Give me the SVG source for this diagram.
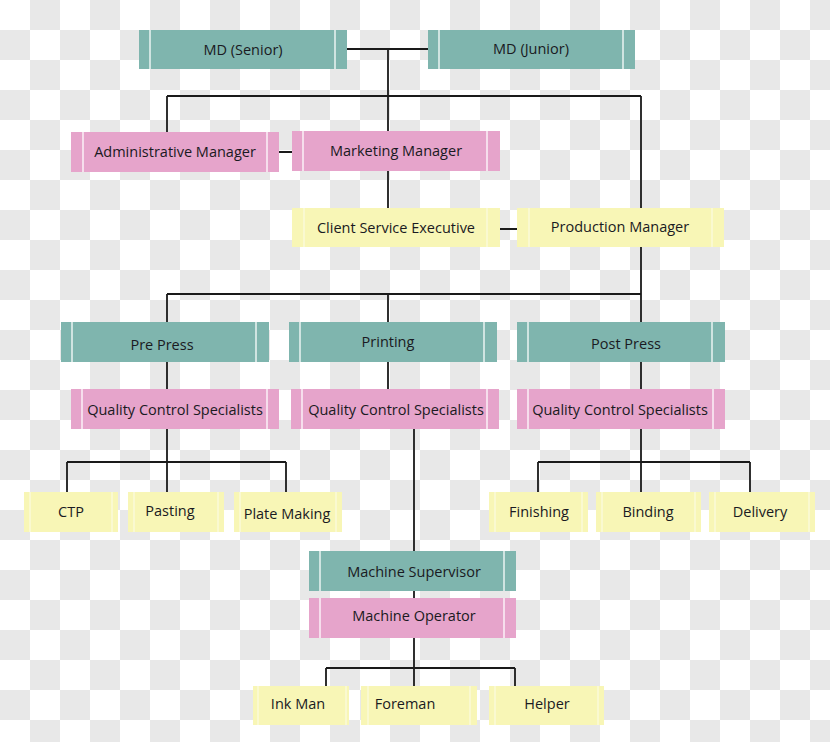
<svg xmlns="http://www.w3.org/2000/svg" width="830" height="742" viewBox="0 0 830 742">
<defs>
<pattern id="chk" x="0" y="0" width="60" height="60" patternUnits="userSpaceOnUse">
<rect width="60" height="60" fill="#ffffff"/>
<rect x="30" y="0" width="30" height="30" fill="#e8e8e8"/>
<rect x="0" y="30" width="30" height="30" fill="#e8e8e8"/>
</pattern>
<style>
.teal{fill:#7fb5ae}
.pink{fill:#e6a4cb}
.yel{fill:#f8f6b6}
.sep{stroke:#ffffff;stroke-width:1.5;opacity:0.85}
.sepy{stroke:#ffffff;stroke-width:1.2;opacity:0.6}
.lbl{font-family:"Open Sans","Liberation Sans",sans-serif;font-size:14.5px;fill:#1a1a22;text-anchor:middle}
.con{fill:none;stroke:#1a1a1a;stroke-width:1.8}
</style>
</defs>
<rect width="830" height="742" fill="url(#chk)"/>

<g id="connectors">
<path class="con" d="M347 49H428M388 49V96M167 96H641M167 96V132M388 96V131M641 96V208"/>
<path class="con" d="M279 152H292M388 171V208M500 229H517"/>
<path class="con" d="M641 247V294M167 294H641M167 294V322M388 294V322M641 294V322"/>
<path class="con" d="M167 362V389M388 362V389M641 362V389"/>
<path class="con" d="M167 429V492M67 462H286M67 462V492M286 462V492"/>
<path class="con" d="M641 429V492M538 462H750M538 462V492M750 462V492"/>
<path class="con" d="M414 429V551M414 591V598M414 638V686M326 668H515M326 668V686M515 668V686"/>
</g>

<g id="md-senior"><rect class="teal" x="139" y="30" width="208" height="39"/><path class="sep" d="M150 30V69M335 30V69"/><text class="lbl" x="243" y="55">MD (Senior)</text></g>
<g id="md-junior"><rect class="teal" x="428" y="30" width="207" height="39"/><path class="sep" d="M439 30V69M623 30V69"/><text class="lbl" x="531" y="54">MD (Junior)</text></g>
<g id="admin-manager"><rect class="pink" x="71" y="132" width="208" height="40"/><path class="sep" d="M83 132V172M267 132V172"/><text class="lbl" x="175" y="157">Administrative Manager</text></g>
<g id="marketing-manager"><rect class="pink" x="292" y="131" width="208" height="40"/><path class="sep" d="M303 131V171M487 131V171"/><text class="lbl" x="396" y="156">Marketing Manager</text></g>
<g id="client-service"><rect class="yel" x="292" y="208" width="208" height="39"/><path class="sepy" d="M304 208V247M487 208V247"/><text class="lbl" x="396" y="233">Client Service Executive</text></g>
<g id="production-manager"><rect class="yel" x="517" y="208" width="207" height="39"/><path class="sepy" d="M529 208V247M712 208V247"/><text class="lbl" x="620" y="232">Production Manager</text></g>

<g id="pre-press"><rect class="teal" x="61" y="322" width="208" height="40"/><path class="sep" d="M72 322V362M256 322V362"/><text class="lbl" x="162" y="350">Pre Press</text></g>
<g id="printing"><rect class="teal" x="289" y="322" width="208" height="40"/><path class="sep" d="M300 322V362M484 322V362"/><text class="lbl" x="388" y="347">Printing</text></g>
<g id="post-press"><rect class="teal" x="517" y="322" width="208" height="40"/><path class="sep" d="M528 322V362M712 322V362"/><text class="lbl" x="626" y="349">Post Press</text></g>

<g id="qcs-pre"><rect class="pink" x="71" y="389" width="208" height="40"/><path class="sep" d="M82 389V429M267 389V429"/><text class="lbl" x="175" y="415">Quality Control Specialists</text></g>
<g id="qcs-print"><rect class="pink" x="291" y="389" width="208" height="40"/><path class="sep" d="M302 389V429M487 389V429"/><text class="lbl" x="396" y="415">Quality Control Specialists</text></g>
<g id="qcs-post"><rect class="pink" x="517" y="389" width="208" height="40"/><path class="sep" d="M528 389V429M713 389V429"/><text class="lbl" x="620" y="415">Quality Control Specialists</text></g>

<g id="ctp"><rect class="yel" x="24" y="492" width="94" height="40"/><path class="sepy" d="M30 492V532M112 492V532"/><text class="lbl" x="71" y="517">CTP</text></g>
<g id="pasting"><rect class="yel" x="128" y="492" width="96" height="40"/><path class="sepy" d="M134 492V532M218 492V532"/><text class="lbl" x="170" y="516">Pasting</text></g>
<g id="plate-making"><rect class="yel" x="234" y="492" width="108" height="40"/><path class="sepy" d="M240 492V532M336 492V532"/><text class="lbl" x="287" y="519">Plate Making</text></g>
<g id="finishing"><rect class="yel" x="489" y="492" width="99" height="40"/><path class="sepy" d="M495 492V532M582 492V532"/><text class="lbl" x="539" y="517">Finishing</text></g>
<g id="binding"><rect class="yel" x="596" y="492" width="105" height="40"/><path class="sepy" d="M602 492V532M695 492V532"/><text class="lbl" x="648" y="517">Binding</text></g>
<g id="delivery"><rect class="yel" x="709" y="492" width="106" height="40"/><path class="sepy" d="M715 492V532M809 492V532"/><text class="lbl" x="760" y="517">Delivery</text></g>

<g id="machine-supervisor"><rect class="teal" x="309" y="551" width="207" height="40"/><path class="sep" d="M320 551V591M504 551V591"/><text class="lbl" x="414" y="577">Machine Supervisor</text></g>
<g id="machine-operator"><rect class="pink" x="309" y="598" width="207" height="40"/><path class="sep" d="M320 598V638M504 598V638"/><text class="lbl" x="414" y="621">Machine Operator</text></g>

<g id="ink-man"><rect class="yel" x="253" y="686" width="96" height="39"/><path class="sepy" d="M258 686V725M346 686V725"/><text class="lbl" x="298" y="709">Ink Man</text></g>
<g id="foreman"><rect class="yel" x="361" y="686" width="116" height="39"/><path class="sepy" d="M368 686V725M470 686V725"/><text class="lbl" x="405" y="709">Foreman</text></g>
<g id="helper"><rect class="yel" x="489" y="686" width="115" height="39"/><path class="sepy" d="M495 686V725M598 686V725"/><text class="lbl" x="547" y="709">Helper</text></g>
</svg>
